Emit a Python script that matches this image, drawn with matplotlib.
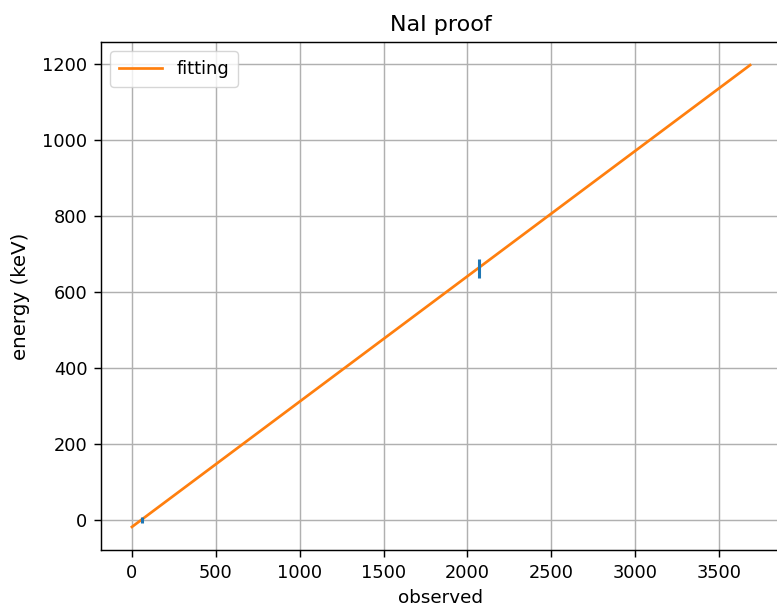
import matplotlib
matplotlib.use("Agg")
import matplotlib.pyplot as plt
import numpy as np

# measured peaks (channel, energy) with errors
obs = [60, 2071]
energy = [0, 662]
energy_err = [8, 25]

# fitted calibration line endpoints
fit_x = [0, 3685]
fit_y = [-18, 1197]

s = 1.3  # looks like an upscaled default figure
plt.rcParams['font.size'] = 12.8
plt.rcParams['lines.linewidth'] = 1.5 * s
plt.rcParams['axes.linewidth'] = 0.8 * s
plt.rcParams['grid.linewidth'] = 0.8 * s
plt.rcParams['axes.titlepad'] = 6 * s
plt.rcParams['axes.labelpad'] = 4 * s
for a in ('xtick', 'ytick'):
    plt.rcParams[a + '.major.size'] = 3.5 * 1.4
    plt.rcParams[a + '.major.pad'] = 3.5 * 1.4
    plt.rcParams[a + '.major.width'] = 0.8 * s

fig = plt.figure(figsize=(7.77, 6.07), dpi=100)
ax = fig.add_axes([101/777, 57/607, 680/777, 508/607])

ax.plot(fit_x, fit_y, color='C1', label='fitting')
ax.errorbar(obs, energy, yerr=energy_err, fmt='none', ecolor='C0', linewidth=2.2)

ax.grid(True)
ax.legend(loc='upper left', fontsize=12.9, handlelength=2.4, borderpad=0.5)
ax.set_title('NaI proof', fontsize=16)
ax.set_xlabel('observed', fontsize=13.2)
ax.set_ylabel('energy (keV)', fontsize=14.3, labelpad=8.5)

fig.savefig('out.png', dpi=100)
